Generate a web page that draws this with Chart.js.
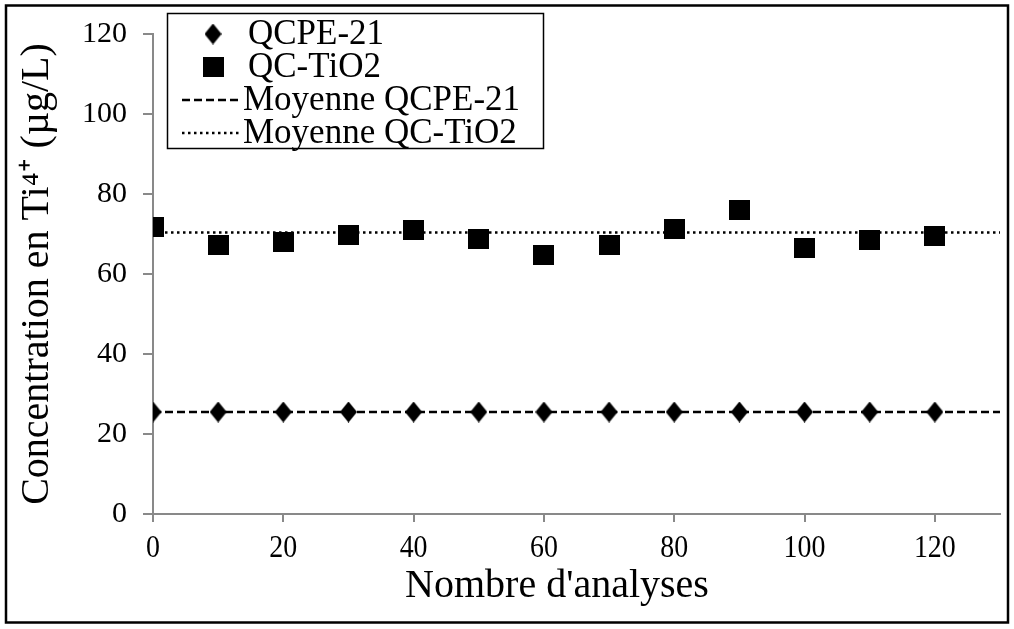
<!DOCTYPE html>
<html>
<head>
<meta charset="utf-8">
<script src="https://cdn.jsdelivr.net/npm/chart.js@4.4.1/dist/chart.umd.min.js"></script>
<style>
  html, body { margin: 0; background: #fff; }
</style>
</head>
<body>
<canvas id="chart" width="1014" height="629"></canvas>
<script>
// values
const analyses = [0, 10, 20, 30, 40, 50, 60, 70, 80, 90, 100, 110, 120];
const qcpe21 = [25.5, 25.5, 25.5, 25.5, 25.5, 25.5, 25.5, 25.5, 25.5, 25.5, 25.5, 25.5, 25.5];
const qcTiO2 = [71.8, 67.3, 68.1, 69.7, 71.0, 68.7, 64.7, 67.3, 71.2, 76.0, 66.5, 68.5, 69.5];
const meanX = [0, 130];
const meanQcpe21 = [25.5, 25.5];
const meanQcTiO2 = [70.4, 70.4];

const xTitle = "Nombre d'analyses";
const yTitle = 'Concentration en Ti\u2074\u207A (µg/L)';
const serif = '"Liberation Serif", "Times New Roman", serif';
const axisGrey = '#898989';

function marker(w, h, diamond) {
  const c = document.createElement('canvas');
  c.width = w; c.height = h;
  const g = c.getContext('2d');
  g.fillStyle = '#000';
  if (diamond) {
    g.beginPath();
    g.moveTo(w / 2, 0); g.lineTo(w, h / 2); g.lineTo(w / 2, h); g.lineTo(0, h / 2);
    g.closePath();
    g.fill();
  } else {
    g.fillRect(0, 0, w, h);
  }
  return c;
}
const diamondImg = marker(17, 21, true);
const squareImg = marker(21, 20, false);

const pairs = (xs, ys) => xs.map((x, i) => ({ x: x, y: ys[i] }));

// frame, x labels, x title and the boxed legend
const decor = {
  id: 'decor',
  afterDraw(chart) {
    const ctx = chart.ctx;
    const xs = chart.scales.x;
    ctx.save();
    ctx.strokeStyle = '#000';
    ctx.lineWidth = 2.5;
    ctx.strokeRect(6, 5.5, 1002, 617);

    ctx.fillStyle = '#000';
    ctx.textAlign = 'center';
    ctx.textBaseline = 'middle';
    ctx.font = '31px ' + serif;
    xs.ticks.forEach(t => {
      ctx.save();
      ctx.translate(xs.getPixelForValue(t.value), 549);
      ctx.scale(0.9, 1);
      ctx.fillText(t.label, 0, 0);
      ctx.restore();
    });

    ctx.font = '40px ' + serif;
    ctx.fillText(xTitle, 557, 586);

    // legend
    ctx.lineWidth = 1.5;
    ctx.strokeRect(167.5, 13.5, 376, 135);
    ctx.font = '35px ' + serif;
    ctx.textAlign = 'left';
    const rows = [34, 67, 100, 133];
    chart.data.datasets.forEach((ds, i) => {
      const y = rows[i];
      if (ds.pointStyle instanceof HTMLCanvasElement) {
        const img = ds.pointStyle;
        ctx.drawImage(img, 213 - img.width / 2, y - img.height / 2);
        ctx.fillText(ds.label, 248, y + 1);
      } else {
        ctx.save();
        ctx.strokeStyle = ds.borderColor;
        ctx.lineWidth = ds.borderWidth;
        ctx.setLineDash(ds.borderDash);
        ctx.beginPath();
        ctx.moveTo(182, y); ctx.lineTo(242, y);
        ctx.stroke();
        ctx.restore();
        ctx.fillText(ds.label, 243, y + 1);
      }
    });
    ctx.restore();
  }
};

new Chart(document.getElementById('chart'), {
  type: 'scatter',
  data: {
    datasets: [
      {
        label: 'QCPE-21',
        data: pairs(analyses, qcpe21),
        pointStyle: diamondImg,
        order: 1
      },
      {
        label: 'QC-TiO2',
        data: pairs(analyses, qcTiO2),
        pointStyle: squareImg,
        order: 1
      },
      {
        label: 'Moyenne QCPE-21',
        data: pairs(meanX, meanQcpe21),
        showLine: true,
        borderColor: '#000',
        borderWidth: 2.5,
        borderDash: [8, 4],
        pointRadius: 0,
        order: 2
      },
      {
        label: 'Moyenne QC-TiO2',
        data: pairs(meanX, meanQcTiO2),
        showLine: true,
        borderColor: '#000',
        borderWidth: 2.5,
        borderDash: [2.5, 3.5],
        pointRadius: 0,
        order: 2
      }
    ]
  },
  options: {
    responsive: false,
    animation: false,
    layout: { padding: { top: 34, right: 14, left: 0, bottom: 0 } },
    plugins: {
      legend: { display: false },
      tooltip: { enabled: false }
    },
    scales: {
      x: {
        type: 'linear',
        min: 0,
        max: 130,
        afterFit: s => { s.height = 115; },
        border: { color: axisGrey, width: 2 },
        grid: { drawOnChartArea: false, drawTicks: true, tickLength: 8, color: axisGrey, lineWidth: 2 },
        ticks: { stepSize: 20, includeBounds: false, display: false }
      },
      y: {
        min: 0,
        max: 120,
        afterFit: s => { s.width = 153; },
        border: { color: axisGrey, width: 2 },
        grid: { drawOnChartArea: false, drawTicks: true, tickLength: 10, color: axisGrey, lineWidth: 2 },
        ticks: { stepSize: 20, padding: 16, color: '#000', font: { family: serif, size: 30 } },
        title: {
          display: true,
          text: yTitle,
          color: '#000',
          font: { family: serif, size: 40, lineHeight: 1 },
          padding: { top: 17, bottom: 0 }
        }
      }
    }
  },
  plugins: [decor]
});
</script>
</body>
</html>
